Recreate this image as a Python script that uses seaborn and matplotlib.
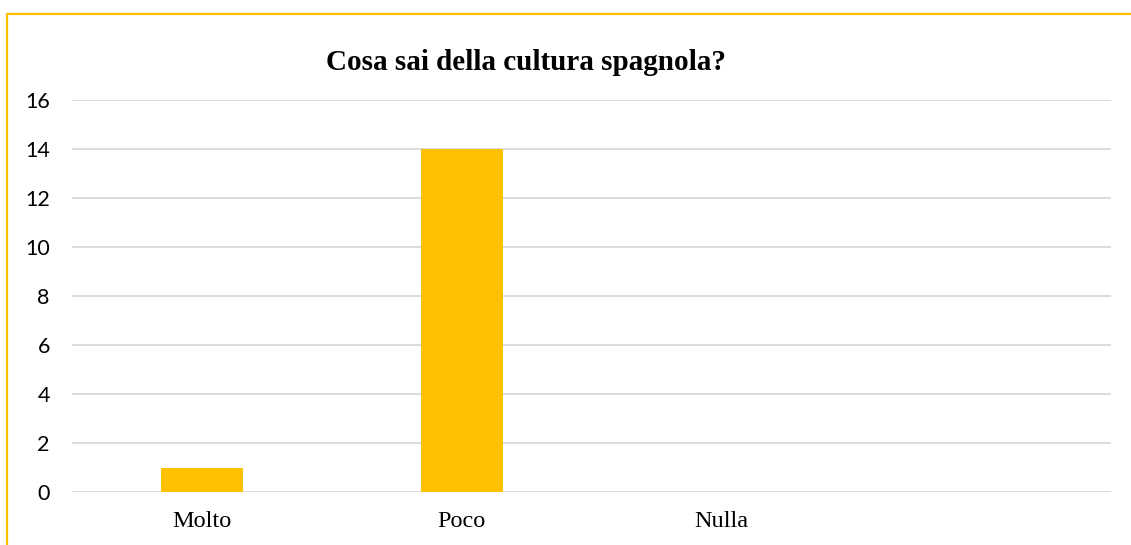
import matplotlib
matplotlib.use("Agg")
import matplotlib.pyplot as plt
from matplotlib.lines import Line2D
import seaborn as sns
import pandas as pd

# Survey answers: "Cosa sai della cultura spagnola?"
categories = ["Molto", "Poco", "Nulla", ""]
counts = [1, 14, 0, 0]
y_ticks = [0, 2, 4, 6, 8, 10, 12, 14, 16]

bar_color = "#FFC000"
grid_color = "#D9D9D9"

df = pd.DataFrame({"risposta": categories, "conteggio": counts})

sns.set_theme(style="white")
plt.rcParams["font.family"] = ["DejaVu Sans"]

fig = plt.figure(figsize=(11.31, 5.45), dpi=100)
ax = fig.add_axes([72 / 1131, 1 - 492 / 545, (1111 - 72) / 1131, (492 - 100) / 545])

sns.barplot(data=df, x="risposta", y="conteggio", color=bar_color,
            width=0.315, saturation=1, linewidth=0, ax=ax, zorder=3)

ax.set_xlim(-0.5, 3.5)
ax.set_ylim(0, 16)
ax.set_yticks(y_ticks)
ax.yaxis.grid(True, color=grid_color, linewidth=1.3, zorder=0)
ax.xaxis.grid(False)
for s in ax.spines.values():
    s.set_visible(False)
ax.set_xlabel("")
ax.set_ylabel("")
ax.tick_params(axis="both", length=0)
ax.tick_params(axis="y", pad=16)
ax.tick_params(axis="x", pad=14)
for lbl in ax.get_yticklabels():
    lbl.set_fontfamily("Lato")
    lbl.set_fontsize(15.5)
    lbl.set_color("#000000")
for lbl in ax.get_xticklabels():
    lbl.set_fontfamily("Liberation Serif")
    lbl.set_fontsize(17.5)
    lbl.set_color("#000000")

fig.text(526 / 1131, 1 - 62 / 545, "Cosa sai della cultura spagnola?",
         ha="center", va="center", fontsize=21, fontweight="bold",
         family="Liberation Serif", color="#000000")

# Chart frame (top and left edges)
fig.add_artist(Line2D([7 / 1131, 1.0], [1 - 14 / 545, 1 - 14 / 545],
                      transform=fig.transFigure, color=bar_color, linewidth=1.6))
fig.add_artist(Line2D([7 / 1131, 7 / 1131], [0.0, 1 - 14 / 545],
                      transform=fig.transFigure, color=bar_color, linewidth=1.6))

fig.savefig("out.png", dpi=100, facecolor="white")
